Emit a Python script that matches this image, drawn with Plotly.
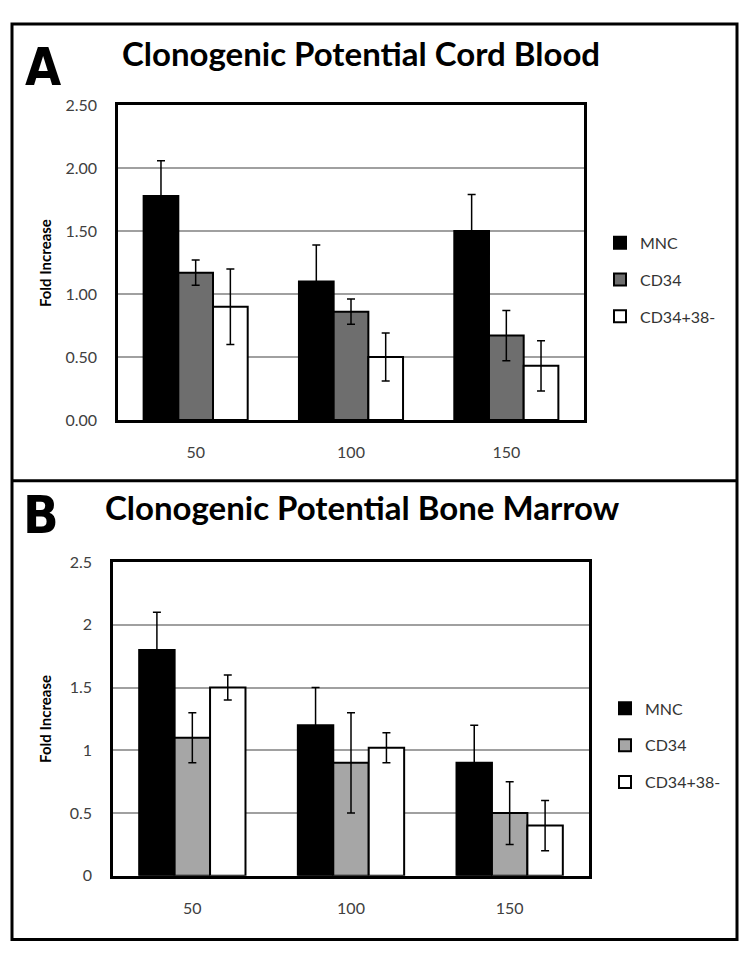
import plotly.graph_objects as go

categories = ["50", "100", "150"]
series_names = ["MNC", "CD34", "CD34+38-"]

# Panel A: Cord Blood
cord_mnc = [1.78, 1.10, 1.50]
cord_mnc_err = [0.28, 0.29, 0.29]
cord_cd34 = [1.17, 0.86, 0.67]
cord_cd34_err = [0.10, 0.10, 0.20]
cord_cd3438 = [0.90, 0.50, 0.43]
cord_cd3438_err = [0.30, 0.19, 0.20]
cord_tickvals = [0, 0.5, 1.0, 1.5, 2.0, 2.5]
cord_ticktext = ["0.00", "0.50", "1.00", "1.50", "2.00", "2.50"]

# Panel B: Bone Marrow
bm_mnc = [1.80, 1.20, 0.90]
bm_mnc_err = [0.30, 0.30, 0.30]
bm_cd34 = [1.10, 0.90, 0.50]
bm_cd34_err = [0.20, 0.40, 0.25]
bm_cd3438 = [1.50, 1.02, 0.40]
bm_cd3438_err = [0.10, 0.12, 0.20]
bm_tickvals = [0, 0.5, 1, 1.5, 2, 2.5]
bm_ticktext = ["0", "0.5", "1", "1.5", "2", "2.5"]

W, H = 750, 965
OFF = 8  # browser body margin
FONT = "Lato, 'Open Sans', sans-serif"
LETTER_FONT = "'Liberation Sans Narrow', 'DejaVu Sans Condensed', sans-serif"


def px(x):
    return (x - OFF) / W


def py(y):
    return 1 - (y - OFF) / H


fig = go.Figure()

colors_a = ["#000000", "#6e6e6e", "#ffffff"]
colors_b = ["#000000", "#a6a6a6", "#ffffff"]

panel_a = [(cord_mnc, cord_mnc_err), (cord_cd34, cord_cd34_err), (cord_cd3438, cord_cd3438_err)]
panel_b = [(bm_mnc, bm_mnc_err), (bm_cd34, bm_cd34_err), (bm_cd3438, bm_cd3438_err)]

for i, (vals, errs) in enumerate(panel_a):
    fig.add_trace(go.Bar(
        x=categories, y=vals, name=series_names[i],
        marker=dict(color=colors_a[i], line=dict(color="#000000", width=2)),
        error_y=dict(type="data", array=errs, visible=True, color="#000000", thickness=1.5, width=4),
        xaxis="x", yaxis="y", legend="legend", legendgroup="a" + str(i),
    ))

for i, (vals, errs) in enumerate(panel_b):
    fig.add_trace(go.Bar(
        x=categories, y=vals, name=series_names[i],
        marker=dict(color=colors_b[i], line=dict(color="#000000", width=2)),
        error_y=dict(type="data", array=errs, visible=True, color="#000000", thickness=1.5, width=4),
        xaxis="x2", yaxis="y2", legend="legend2", legendgroup="b" + str(i),
    ))

axis_common = dict(
    showline=True, linecolor="#000000", linewidth=2.5, mirror=True,
    tickfont=dict(family=FONT, size=16, color="#404040"),
    fixedrange=True,
)

fig.update_layout(
    width=W, height=H,
    margin=dict(l=0, r=0, t=0, b=0),
    paper_bgcolor="#ffffff", plot_bgcolor="#ffffff",
    barmode="group", bargap=0.33, bargroupgap=0,
    xaxis=dict(domain=[px(118), px(584)], anchor="y", showgrid=False,
               ticks="", ticklabelstandoff=16, **axis_common),
    yaxis=dict(domain=[py(418), py(97)], anchor="x", range=[0, 2.5],
               tickvals=cord_tickvals, ticktext=cord_ticktext,
               showgrid=True, gridcolor="#a0a0a0", gridwidth=1.5, zeroline=False,
               ticks="", ticklabelstandoff=15, **axis_common),
    xaxis2=dict(domain=[px(113), px(589)], anchor="y2", showgrid=False,
                ticks="", ticklabelstandoff=16, **axis_common),
    yaxis2=dict(domain=[py(883), py(563)], anchor="x2", range=[0, 2.5],
                tickvals=bm_tickvals, ticktext=bm_ticktext,
                showgrid=True, gridcolor="#a0a0a0", gridwidth=1.5, zeroline=False,
                ticks="", ticklabelstandoff=15, **axis_common),
    legend=dict(x=px(600), y=py(220), xanchor="left", yanchor="top",
                font=dict(family=FONT, size=16, color="#333333"),
                tracegroupgap=13, bgcolor="rgba(0,0,0,0)"),
    legend2=dict(x=px(605), y=py(695), xanchor="left", yanchor="top",
                 font=dict(family=FONT, size=16, color="#333333"),
                 tracegroupgap=13, bgcolor="rgba(0,0,0,0)"),
    showlegend=True,
)

# Outer frame and divider
fig.add_shape(type="rect", xref="paper", yref="paper",
              x0=px(12), x1=px(737), y0=py(948), y1=py(14),
              line=dict(color="#000000", width=3))
fig.add_shape(type="line", xref="paper", yref="paper",
              x0=px(12), x1=px(737), y0=py(480), y1=py(480),
              line=dict(color="#000000", width=3))

# Panel letters and titles
fig.add_annotation(text="<b>A</b>", xref="paper", yref="paper", x=px(43), y=py(58),
                   xanchor="center", yanchor="middle", showarrow=False,
                   font=dict(family=LETTER_FONT, size=52, color="#000000"))
fig.add_annotation(text="<b>B</b>", xref="paper", yref="paper", x=px(41), y=py(515),
                   xanchor="center", yanchor="middle", showarrow=False,
                   font=dict(family=LETTER_FONT, size=52, color="#000000"))
fig.add_annotation(text="<b>Clonogenic Potential Cord Blood</b>", xref="paper", yref="paper",
                   x=px(120), y=py(44), xanchor="left", yanchor="middle", showarrow=False,
                   font=dict(family=FONT, size=33, color="#000000"))
fig.add_annotation(text="<b>Clonogenic Potential Bone Marrow</b>", xref="paper", yref="paper",
                   x=px(103), y=py(507), xanchor="left", yanchor="middle", showarrow=False,
                   font=dict(family=FONT, size=33, color="#000000"))

# Y-axis titles
fig.add_annotation(text="<b>Fold Increase</b>", xref="paper", yref="paper",
                   x=px(45), y=py(258), xanchor="center", yanchor="middle", showarrow=False,
                   textangle=-90, font=dict(family=FONT, size=15, color="#000000"))
fig.add_annotation(text="<b>Fold Increase</b>", xref="paper", yref="paper",
                   x=px(45), y=py(723), xanchor="center", yanchor="middle", showarrow=False,
                   textangle=-90, font=dict(family=FONT, size=15, color="#000000"))

fig.write_html("out.html")
